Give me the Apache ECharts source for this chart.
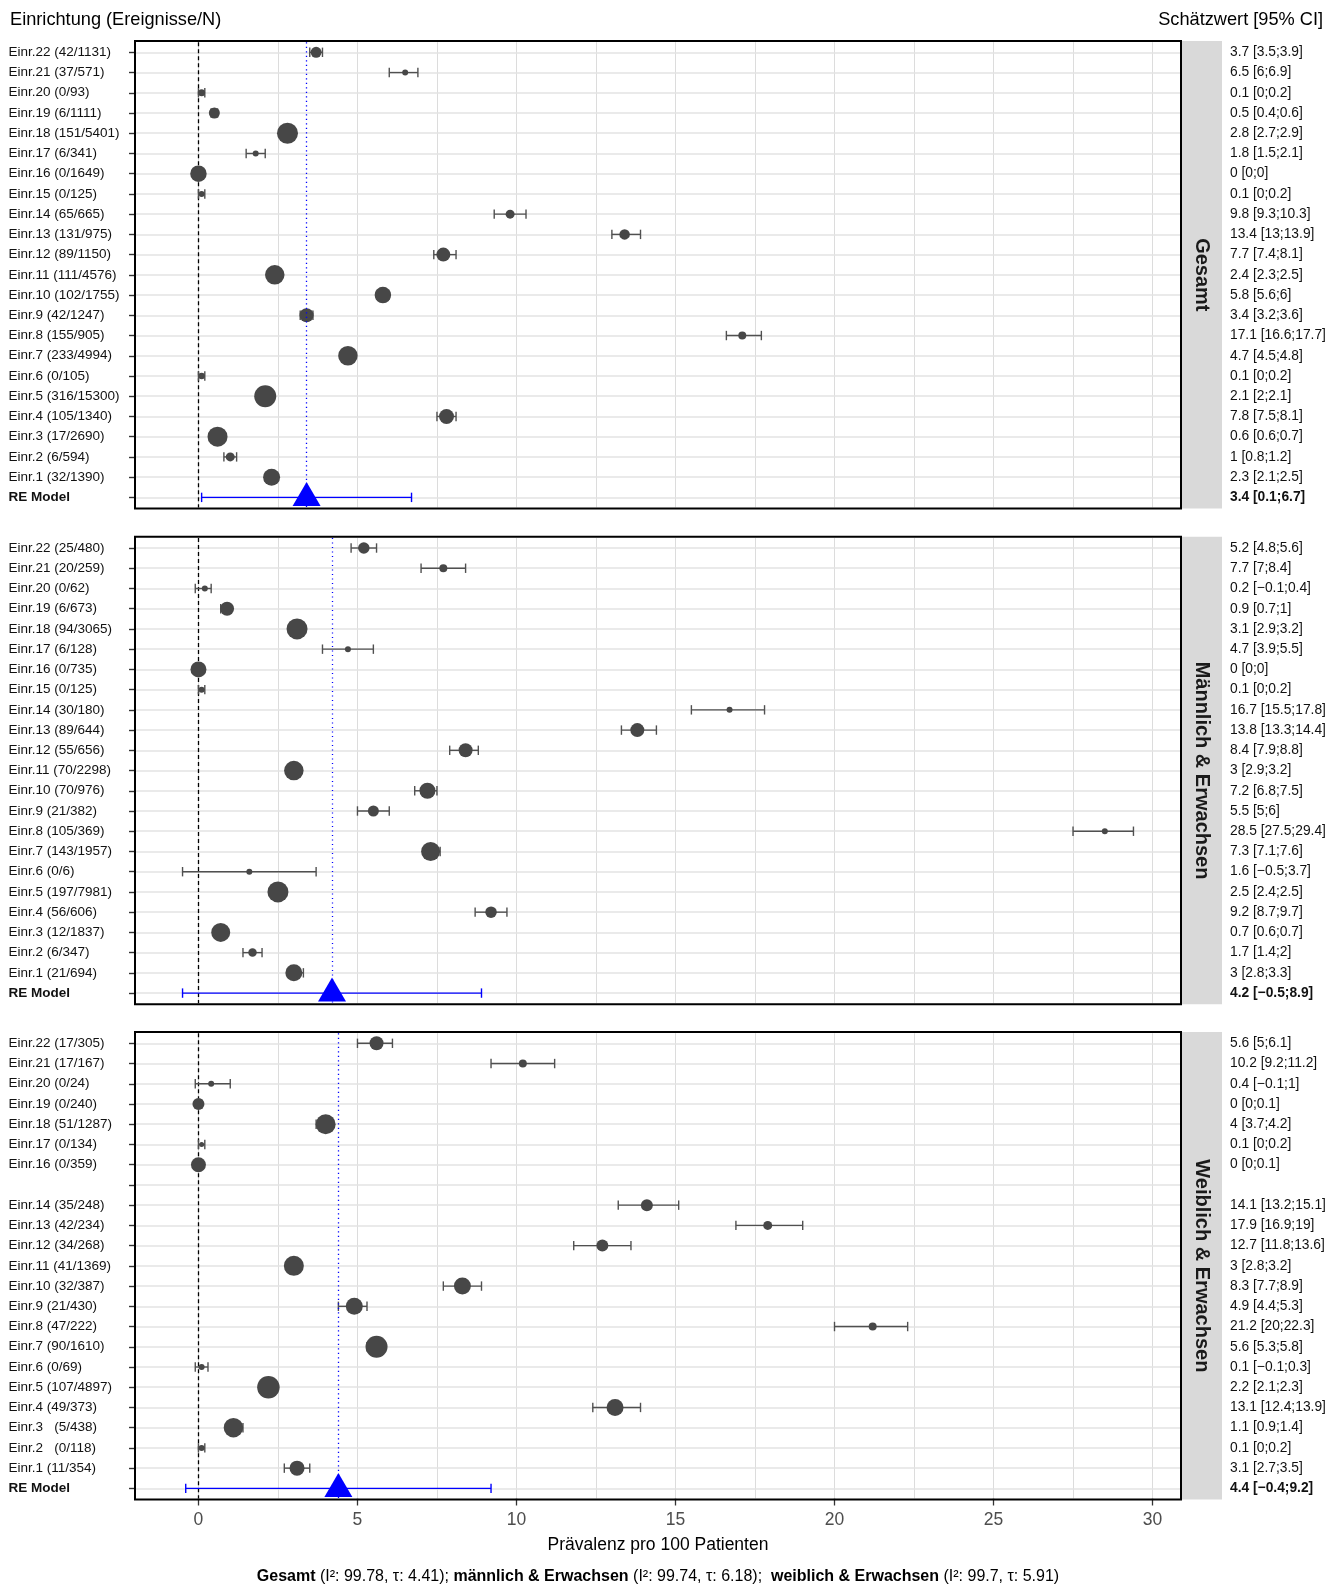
<!DOCTYPE html>
<html>
<head>
<meta charset="utf-8">
<title>Prävalenz pro 100 Patienten</title>
<script src="https://cdn.jsdelivr.net/npm/echarts@6/dist/echarts.min.js"></script>
<style>
  html, body { margin: 0; padding: 0; background: #fff; }
  #chart { width: 1343px; height: 1588px; }
</style>
</head>
<body>
<div id="chart"></div>
<script>
var FONT = "'Liberation Sans', Arial, Helvetica, sans-serif";

// Gesamt (rows top to bottom, last row = RE Model)
var gesamtLabels = ['Einr.22 (42/1131)', 'Einr.21 (37/571)', 'Einr.20 (0/93)', 'Einr.19 (6/1111)', 'Einr.18 (151/5401)', 'Einr.17 (6/341)', 'Einr.16 (0/1649)', 'Einr.15 (0/125)', 'Einr.14 (65/665)', 'Einr.13 (131/975)', 'Einr.12 (89/1150)', 'Einr.11 (111/4576)', 'Einr.10 (102/1755)', 'Einr.9 (42/1247)', 'Einr.8 (155/905)', 'Einr.7 (233/4994)', 'Einr.6 (0/105)', 'Einr.5 (316/15300)', 'Einr.4 (105/1340)', 'Einr.3 (17/2690)', 'Einr.2 (6/594)', 'Einr.1 (32/1390)', 'RE Model'];
var gesamtEst = [3.7, 6.5, 0.1, 0.5, 2.8, 1.8, 0, 0.1, 9.8, 13.4, 7.7, 2.4, 5.8, 3.4, 17.1, 4.7, 0.1, 2.1, 7.8, 0.6, 1, 2.3, 3.4];
var gesamtLo = [3.5, 6, 0, 0.4, 2.7, 1.5, 0, 0, 9.3, 13, 7.4, 2.3, 5.6, 3.2, 16.6, 4.5, 0, 2, 7.5, 0.6, 0.8, 2.1, 0.1];
var gesamtHi = [3.9, 6.9, 0.2, 0.6, 2.9, 2.1, 0, 0.2, 10.3, 13.9, 8.1, 2.5, 6, 3.6, 17.7, 4.8, 0.2, 2.1, 8.1, 0.7, 1.2, 2.5, 6.7];

// männlich & Erwachsen
var maennlichLabels = ['Einr.22 (25/480)', 'Einr.21 (20/259)', 'Einr.20 (0/62)', 'Einr.19 (6/673)', 'Einr.18 (94/3065)', 'Einr.17 (6/128)', 'Einr.16 (0/735)', 'Einr.15 (0/125)', 'Einr.14 (30/180)', 'Einr.13 (89/644)', 'Einr.12 (55/656)', 'Einr.11 (70/2298)', 'Einr.10 (70/976)', 'Einr.9 (21/382)', 'Einr.8 (105/369)', 'Einr.7 (143/1957)', 'Einr.6 (0/6)', 'Einr.5 (197/7981)', 'Einr.4 (56/606)', 'Einr.3 (12/1837)', 'Einr.2 (6/347)', 'Einr.1 (21/694)', 'RE Model'];
var maennlichEst = [5.2, 7.7, 0.2, 0.9, 3.1, 4.7, 0, 0.1, 16.7, 13.8, 8.4, 3, 7.2, 5.5, 28.5, 7.3, 1.6, 2.5, 9.2, 0.7, 1.7, 3, 4.2];
var maennlichLo = [4.8, 7, -0.1, 0.7, 2.9, 3.9, 0, 0, 15.5, 13.3, 7.9, 2.9, 6.8, 5, 27.5, 7.1, -0.5, 2.4, 8.7, 0.6, 1.4, 2.8, -0.5];
var maennlichHi = [5.6, 8.4, 0.4, 1, 3.2, 5.5, 0, 0.2, 17.8, 14.4, 8.8, 3.2, 7.5, 6, 29.4, 7.6, 3.7, 2.5, 9.7, 0.7, 2, 3.3, 8.9];

// weiblich & Erwachsen (Einr.15 fehlt)
var weiblichLabels = ['Einr.22 (17/305)', 'Einr.21 (17/167)', 'Einr.20 (0/24)', 'Einr.19 (0/240)', 'Einr.18 (51/1287)', 'Einr.17 (0/134)', 'Einr.16 (0/359)', '', 'Einr.14 (35/248)', 'Einr.13 (42/234)', 'Einr.12 (34/268)', 'Einr.11 (41/1369)', 'Einr.10 (32/387)', 'Einr.9 (21/430)', 'Einr.8 (47/222)', 'Einr.7 (90/1610)', 'Einr.6 (0/69)', 'Einr.5 (107/4897)', 'Einr.4 (49/373)', 'Einr.3   (5/438)', 'Einr.2   (0/118)', 'Einr.1 (11/354)', 'RE Model'];
var weiblichEst = [5.6, 10.2, 0.4, 0, 4, 0.1, 0, null, 14.1, 17.9, 12.7, 3, 8.3, 4.9, 21.2, 5.6, 0.1, 2.2, 13.1, 1.1, 0.1, 3.1, 4.4];
var weiblichLo = [5, 9.2, -0.1, 0, 3.7, 0, 0, null, 13.2, 16.9, 11.8, 2.8, 7.7, 4.4, 20, 5.3, -0.1, 2.1, 12.4, 0.9, 0, 2.7, -0.4];
var weiblichHi = [6.1, 11.2, 1, 0.1, 4.2, 0.2, 0.1, null, 15.1, 19, 13.6, 3.2, 8.9, 5.3, 22.3, 5.8, 0.3, 2.3, 13.9, 1.4, 0.2, 3.5, 9.2];

// Heterogenität je Gruppe
var hetGroups = ['Gesamt', 'männlich & Erwachsen', 'weiblich & Erwachsen'];
var hetI2 = ['99.78', '99.74', '99.7'];
var hetTau = ['4.41', '6.18', '5.91'];

var stripNames = ['Gesamt', 'Männlich & Erwachsen', 'Weiblich & Erwachsen'];
var xTicks = [0, 5, 10, 15, 20, 25, 30];
var xGrid = [0, 2.5, 5, 7.5, 10, 12.5, 15, 17.5, 20, 22.5, 25, 27.5, 30];

// Punktgrößen (Gewichte), Durchmesser in px
var gesamtSize = [11, 6, 7, 11, 21, 6, 16.5, 6, 9, 10.5, 14, 19.5, 16.5, 14, 8, 19.5, 6.5, 22, 15, 20, 9, 17];
var maennlichSize = [11.5, 8, 6, 14, 21, 6, 16, 6, 6, 14, 14, 19.5, 16, 11, 6, 19, 6, 21, 11.5, 19, 8.5, 17];
var weiblichSize = [14, 8, 6, 12, 20, 5, 15, 0, 12, 9, 12, 20, 17, 17, 8, 22, 6, 22.5, 17, 19.5, 6, 15];

var panels = [
  { est: gesamtEst, lo: gesamtLo, hi: gesamtHi, labels: gesamtLabels, size: gesamtSize },
  { est: maennlichEst, lo: maennlichLo, hi: maennlichHi, labels: maennlichLabels, size: maennlichSize },
  { est: weiblichEst, lo: weiblichLo, hi: weiblichHi, labels: weiblichLabels, size: weiblichSize }
];

// layout
var ROW_H = 20.23;
var GRID_LEFT = 135;
var GRID_RIGHT = 1181;
var gridTops = [42.2, 537.9, 1033.2];

// x range like ggplot: data range + 5 %
var allVals = [].concat(gesamtLo, gesamtHi, maennlichLo, maennlichHi, weiblichLo, weiblichHi).filter(function (v) { return v != null; });
var dMin = Math.min.apply(null, allVals);
var dMax = Math.max.apply(null, allVals);
var xMin = dMin - 0.05 * (dMax - dMin);
var xMax = dMax + 0.05 * (dMax - dMin);

function fmt (v) {
  return String(v).replace('-', '\u2212');
}

function errorBar (color, width) {
  return function (params, api) {
    var row = api.value(2);
    var a = api.coord([api.value(0), row]);
    var b = api.coord([api.value(1), row]);
    var cap = 4.7;
    var style = { stroke: color, lineWidth: width, fill: null };
    return {
      type: 'group',
      children: [
        { type: 'line', shape: { x1: a[0], y1: a[1], x2: b[0], y2: b[1] }, style: style },
        { type: 'line', shape: { x1: a[0], y1: a[1] - cap, x2: a[0], y2: a[1] + cap }, style: style },
        { type: 'line', shape: { x1: b[0], y1: b[1] - cap, x2: b[0], y2: b[1] + cap }, style: style }
      ]
    };
  };
}

var grids = [];
var xAxes = [];
var yAxes = [];
var series = [];
var graphics = [];

panels.forEach(function (p, k) {
  var nRows = p.labels.length;
  var reIdx = nRows - 1;
  var h = ROW_H * nRows;
  var top = gridTops[k];
  var last = k === panels.length - 1;

  grids.push({ left: GRID_LEFT, top: top, width: GRID_RIGHT - GRID_LEFT, height: h });

  xAxes.push({
    gridIndex: k,
    type: 'value',
    min: xMin,
    max: xMax,
    axisLine: { show: false, onZero: false },
    splitLine: { show: false },
    axisTick: { show: last, length: 7, customValues: xTicks, lineStyle: { color: '#333', width: 1.3 } },
    axisLabel: { show: last, customValues: xTicks, margin: 13, color: '#4d4d4d', fontSize: 17.5, fontFamily: FONT },
    name: last ? 'Prävalenz pro 100 Patienten' : '',
    nameLocation: 'middle',
    nameGap: 38,
    nameTextStyle: { color: '#000', fontSize: 17.5, fontFamily: FONT }
  });

  var rightText = p.est.map(function (v, i) {
    if (v == null) return '';
    return fmt(v) + ' [' + fmt(p.lo[i]) + ';' + fmt(p.hi[i]) + ']';
  });

  var boldLast = function (v, i) { return i === reIdx ? '{b|' + v + '}' : v; };

  // Beschriftung links (Kategorien)
  yAxes.push({
    gridIndex: k,
    type: 'category',
    inverse: true,
    position: 'left',
    data: p.labels,
    axisLine: { show: false, onZero: false },
    splitLine: { show: false },
    axisTick: { show: true, interval: 0, alignWithLabel: true, length: 6, lineStyle: { color: '#333', width: 1.4 } },
    axisLabel: {
      interval: 0, align: 'left', margin: 126.5, color: '#111', fontSize: 13.5, fontFamily: FONT,
      formatter: boldLast,
      rich: { b: { fontWeight: 'bold', fontSize: 13.5, fontFamily: FONT, color: '#111' } }
    }
  });
  // Schätzwerte rechts
  yAxes.push({
    gridIndex: k,
    type: 'category',
    inverse: true,
    position: 'right',
    data: rightText,
    axisLine: { show: false, onZero: false },
    axisTick: { show: false },
    splitLine: { show: false },
    axisLabel: {
      interval: 0, align: 'left', margin: 49, color: '#111', fontSize: 13.8, fontFamily: FONT,
      formatter: boldLast,
      rich: { b: { fontWeight: 'bold', fontSize: 13.8, fontFamily: FONT, color: '#111' } }
    }
  });
  // Zeilenposition als Wertachse (gleiche Lage wie die Kategorien)
  var rowAxis = yAxes.length;
  yAxes.push({
    gridIndex: k,
    type: 'value',
    show: false,
    inverse: true,
    min: -0.5,
    max: nRows - 0.5,
    axisLine: { onZero: false },
    splitLine: { show: false }
  });

  var barData = [];
  var pointData = [];
  for (var i = 0; i < reIdx; i++) {
    if (p.est[i] == null) continue;
    barData.push([p.lo[i], p.hi[i], i]);
    pointData.push({ value: [p.est[i], i], symbolSize: p.size[i] });
  }

  var gridLines = xGrid.map(function (v) {
    return { xAxis: v, lineStyle: { color: '#dcdcdc', width: 1, type: 'solid' } };
  }).concat(p.labels.map(function (lab, i) {
    return { yAxis: i, lineStyle: { color: '#e3e3e3', width: 1.7, type: 'solid' } };
  }));

  // Konfidenzintervalle der Einrichtungen + Gitterlinien
  series.push({
    type: 'custom',
    xAxisIndex: k,
    yAxisIndex: rowAxis,
    z: 3,
    renderItem: errorBar('#505050', 1.4),
    encode: { x: [0, 1], y: 2 },
    data: barData,
    markLine: {
      silent: true, z: 1, symbol: ['none', 'none'], label: { show: false }, animation: false,
      data: gridLines
    }
  });

  // Punktschätzer + Nulllinie
  series.push({
    type: 'scatter',
    xAxisIndex: k,
    yAxisIndex: rowAxis,
    z: 4,
    symbol: 'circle',
    itemStyle: { color: '#474747', opacity: 1 },
    data: pointData,
    markLine: {
      silent: true, z: 2, symbol: ['none', 'none'], label: { show: false }, animation: false,
      lineStyle: { color: '#000', width: 1.3, type: [4, 3] },
      data: [{ xAxis: 0 }]
    }
  });

  // RE Model
  series.push({
    type: 'custom',
    xAxisIndex: k,
    yAxisIndex: rowAxis,
    z: 6,
    renderItem: errorBar('#0000ff', 1.4),
    encode: { x: [0, 1], y: 2 },
    data: [[p.lo[reIdx], p.hi[reIdx], reIdx]]
  });
  series.push({
    type: 'scatter',
    xAxisIndex: k,
    yAxisIndex: rowAxis,
    z: 7,
    symbol: 'triangle',
    symbolSize: [28, 24],
    symbolOffset: [0, -3.5],
    itemStyle: { color: '#0000ff', opacity: 1 },
    data: [[p.est[reIdx], reIdx]],
    markLine: {
      silent: true, z: 5, symbol: ['none', 'none'], label: { show: false }, animation: false,
      lineStyle: { color: '#0000ff', width: 1.3, type: [1.2, 3.3] },
      data: [{ xAxis: p.est[reIdx] }]
    }
  });

  // Rahmen und Streifen
  var fTop = top - 1.1;
  var fH = h + 2.2;
  graphics.push({
    type: 'rect', z: 50, silent: true,
    shape: { x: GRID_LEFT, y: fTop, width: GRID_RIGHT - GRID_LEFT, height: fH },
    style: { fill: null, stroke: '#000', lineWidth: 2 }
  });
  graphics.push({
    type: 'rect', z: 40, silent: true,
    shape: { x: GRID_RIGHT + 1, y: fTop, width: 40, height: fH },
    style: { fill: '#d9d9d9' }
  });
  graphics.push({
    type: 'text', z: 51, silent: true,
    x: GRID_RIGHT + 20.5, y: fTop + fH / 2, rotation: -Math.PI / 2,
    style: { text: stripNames[k], fontSize: 20, fontWeight: 'bold', fontFamily: FONT, fill: '#1a1a1a', align: 'center', verticalAlign: 'middle' }
  });
});

// Kopfzeilen
graphics.push({
  type: 'text', silent: true, x: 10, y: 19.5,
  style: { text: 'Einrichtung (Ereignisse/N)', fontSize: 18.2, fontFamily: FONT, fill: '#000', align: 'left', verticalAlign: 'middle' }
});
graphics.push({
  type: 'text', silent: true, x: 1323, y: 19.5,
  style: { text: 'Schätzwert [95% CI]', fontSize: 18.2, fontFamily: FONT, fill: '#000', align: 'right', verticalAlign: 'middle' }
});

// Heterogenität unten
var hetParts = hetGroups.map(function (g, i) {
  return '{b|' + g + '} (I\u00b2: ' + hetI2[i] + ', \u03c4: ' + hetTau[i] + ')';
});
graphics.push({
  type: 'text', silent: true, x: (GRID_LEFT + GRID_RIGHT) / 2, y: 1577,
  style: {
    text: hetParts[0] + '; ' + hetParts[1] + ';  ' + hetParts[2],
    fontSize: 16, fontFamily: FONT, fill: '#000', align: 'center', verticalAlign: 'middle',
    rich: { b: { fontWeight: 'bold', fontSize: 16, fontFamily: FONT, fill: '#000' } }
  }
});

var chart = echarts.init(document.getElementById('chart'), null, { renderer: 'canvas' });
chart.setOption({
  animation: false,
  backgroundColor: '#fff',
  grid: grids,
  xAxis: xAxes,
  yAxis: yAxes,
  series: series,
  graphic: graphics
});
</script>
</body>
</html>
